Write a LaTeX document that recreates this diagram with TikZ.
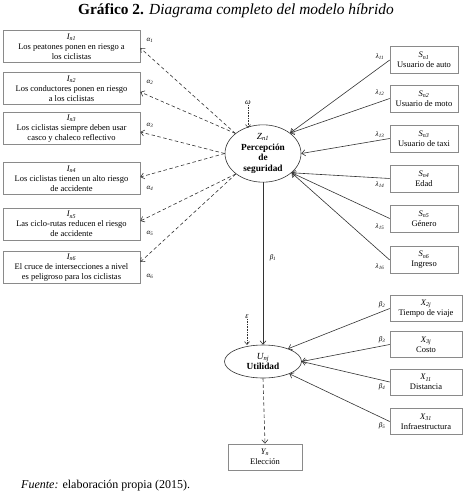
\documentclass[tikz,border=0pt]{standalone}
\usepackage{fontspec}
\setmainfont{Liberation Serif}
\usetikzlibrary{arrows.meta,calc,shapes.geometric}
\newcommand{\vs}[2]{{\itshape #1\textsubscript{#2}}}
\definecolor{boxgray}{HTML}{8A8A8A}
\definecolor{linegray}{HTML}{333333}
\begin{document}
\begin{tikzpicture}[x=1pt,y=-1pt,
  lbox/.style={draw=boxgray, line width=0.6pt, minimum width=137pt, minimum height=32pt, inner sep=0pt, align=center, font=\fontsize{8.5}{9.8}\selectfont},
  sbox/.style={draw=boxgray, line width=0.6pt, minimum width=68pt, minimum height=27pt, inner sep=0pt, align=center, font=\fontsize{8.5}{9.8}\selectfont},
  xbox/.style={sbox, minimum width=72pt, minimum height=26pt},
  lat/.style={draw=linegray, ellipse, line width=0.6pt, inner sep=0pt, align=center},
  coef/.style={font=\fontsize{7}{8}\selectfont\itshape, inner sep=0pt},
  solidarr/.style={draw=linegray, line width=0.6pt, -{Straight Barb[length=3.5pt,width=6pt]}},
  dasharr/.style={solidarr, dash pattern=on 3.5pt off 2.5pt},
  dotarr/.style={solidarr, densely dotted, -{Straight Barb[length=3pt,width=5pt]}}
]
\useasboundingbox (0,0) rectangle (467,497);

% title and source
\node[font=\fontsize{15.4}{18}\selectfont, inner sep=0pt] (title) at (236,11) {\textbf{Gráfico 2.} \textit{Diagrama completo del modelo híbrido}};
\node[font=\fontsize{12}{14}\selectfont, anchor=west, inner sep=0pt] (src) at (21,486) {\textit{Fuente:} elaboración propia (2015).};

% latent variables
\node[lat, minimum width=76pt, minimum height=53pt, font=\fontsize{9.3}{10.8}\selectfont] (Z) at (263,153.5) {\vs{Z}{n1}\\\textbf{Percepción}\\\textbf{de}\\\textbf{seguridad}};
\node[lat, minimum width=77pt, minimum height=33pt, font=\fontsize{9.3}{10.8}\selectfont] (U) at (263,361.5) {\vs{U}{nj}\\\textbf{Utilidad}};

% left indicator boxes
\node[lbox] (I1) at (71.5,46.5) {\vs{I}{n1}\\Los peatones ponen en riesgo a\\los ciclistas};
\node[lbox] (I2) at (71.5,88.5) {\vs{I}{n2}\\Los conductores ponen en riesgo\\a los ciclistas};
\node[lbox] (I3) at (71.5,128.5) {\vs{I}{n3}\\Los ciclistas siempre deben usar\\casco y chaleco reflectivo};
\node[lbox] (I4) at (71.5,178.5) {\vs{I}{n4}\\Los ciclistas tienen un alto riesgo\\de accidente};
\node[lbox] (I5) at (71.5,224) {\vs{I}{n5}\\Las ciclo-rutas reducen el riesgo\\de accidente};
\node[lbox] (I6) at (71.5,267.5) {\vs{I}{n6}\\El cruce de intersecciones a nivel\\es peligroso para los ciclistas};

% right socio-economic boxes
\node[sbox] (S1) at (424,60) {\vs{S}{n1}\\Usuario de auto};
\node[sbox] (S2) at (424,98.5) {\vs{S}{n2}\\Usuario de moto};
\node[sbox] (S3) at (424,138.5) {\vs{S}{n3}\\Usuario de taxi};
\node[sbox] (S4) at (424,178.5) {\vs{S}{n4}\\Edad};
\node[sbox] (S5) at (424,218.5) {\vs{S}{n5}\\Género};
\node[sbox] (S6) at (424,260) {\vs{S}{n6}\\Ingreso};

% attribute boxes
\node[xbox] (X2) at (426,308.5) {\vs{X}{2j}\\Tiempo de viaje};
\node[xbox] (X3) at (426,344.5) {\vs{X}{3j}\\Costo};
\node[xbox] (X11) at (426,382) {\vs{X}{11}\\Distancia};
\node[xbox] (X31) at (426,421.5) {\vs{X}{31}\\Infraestructura};

% choice
\node[xbox, minimum width=74pt] (Y) at (265,457) {\vs{Y}{n}\\Elección};

% measurement arrows (dashed)
\draw[dasharr] (Z.144) -- ($(I1.east)+(0,1.5)$);
\draw[dasharr] (Z.144) -- ($(I2.east)+(0,3.5)$);
\draw[dasharr] (Z.180) -- ($(I3.east)+(0,3.5)$);
\draw[dasharr] (Z.180) -- ($(I4.east)+(0,-1.5)$);
\draw[dasharr] (Z.217) -- ($(I5.east)+(0,-3)$);
\draw[dasharr] (Z.217) -- ($(I6.east)+(0,-5.5)$);

% structural arrows into Z
\draw[solidarr] (S1.west) -- (Z.37);
\draw[solidarr] (S2.west) -- (Z.37);
\draw[solidarr] (S3.west) -- (Z.0);
\draw[solidarr] (S4.west) -- (Z.-34);
\draw[solidarr] (S5.west) -- (Z.-34);
\draw[solidarr] (S6.west) -- (Z.-34);

% arrows into U
\draw[solidarr] (Z.south) -- (U.north);
\draw[solidarr] (X2.west) -- (U.27);
\draw[solidarr] (X3.west) -- (U.0);
\draw[solidarr] (X11.west) -- (U.0);
\draw[solidarr] (X31.west) -- (U.-25);
\draw[dasharr] (U.south) -- (Y.north);

% error terms
\node[coef, font=\fontsize{8}{9}\selectfont\itshape] (om) at (248,103) {ω};
\coordinate (omEnd) at (248,128);
\draw[dotarr] (om.south) -- (omEnd);
\node[coef, font=\fontsize{8}{9}\selectfont\itshape] (eps) at (247,317) {ε};
\coordinate (epsEnd) at (247,345);
\draw[dotarr] (eps.south) -- (epsEnd);

% coefficient labels
\node[coef] (a1) at (150,40) {α\textsubscript{1}};
\node[coef] (a2) at (150,82) {α\textsubscript{2}};
\node[coef] (a3) at (150,125) {α\textsubscript{3}};
\node[coef] (a4) at (150,188) {α\textsubscript{4}};
\node[coef] (a5) at (150,233) {α\textsubscript{5}};
\node[coef] (a6) at (150,276) {α\textsubscript{6}};

\node[coef] (l1) at (380,57) {λ\textsubscript{11}};
\node[coef] (l2) at (380,93) {λ\textsubscript{12}};
\node[coef] (l3) at (380,135) {λ\textsubscript{13}};
\node[coef] (l4) at (380,185) {λ\textsubscript{14}};
\node[coef] (l5) at (380,227) {λ\textsubscript{15}};
\node[coef] (l6) at (380,267) {λ\textsubscript{16}};

\node[coef] (b1) at (273,258) {β\textsubscript{1}};
\node[coef] (b2) at (382,305) {β\textsubscript{2}};
\node[coef] (b3) at (382,340) {β\textsubscript{3}};
\node[coef] (b4) at (382,387) {β\textsubscript{4}};
\node[coef] (b5) at (382,426) {β\textsubscript{5}};
\end{tikzpicture}
\end{document}
